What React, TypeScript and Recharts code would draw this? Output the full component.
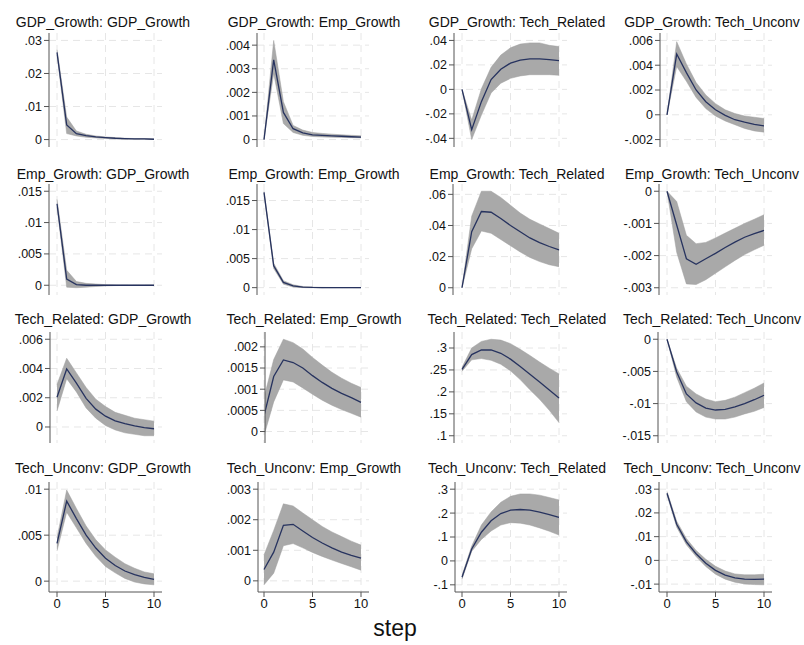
import React from 'react'
import { ComposedChart, Area, Line, XAxis, YAxis, CartesianGrid } from 'recharts'

const steps = [0, 1, 2, 3, 4, 5, 6, 7, 8, 9, 10]
const stepTicks = [0, 5, 10]

// impulse: GDP_Growth
const irfGdpGdp = [0.0264, 0.0044, 0.0018, 0.0012, 0.0008, 0.0006, 0.0004, 0.0003, 0.0002, 0.0002, 0.0001]
const loGdpGdp = [0.0256, 0.0018, 0.0011, 0.0007, 0.0005, 0.0003, 0.0002, 0.0001, 0.0001, 0.0001, 0.00005]
const hiGdpGdp = [0.0272, 0.0068, 0.0026, 0.0016, 0.0011, 0.0008, 0.0006, 0.0004, 0.0003, 0.0003, 0.0002]
const ticksGdpGdp = [0, 0.01, 0.02, 0.03]

const irfGdpEmp = [0, 0.00338, 0.00115, 0.00046, 0.00028, 0.0002, 0.00018, 0.00016, 0.00014, 0.00012, 0.0001]
const loGdpEmp = [0, 0.0028, 0.00068, 0.0003, 0.00018, 0.00013, 0.00011, 0.0001, 0.00009, 0.00008, 0.00007]
const hiGdpEmp = [0, 0.0042, 0.0016, 0.0006, 0.0004, 0.0003, 0.00026, 0.00023, 0.0002, 0.00018, 0.00016]
const ticksGdpEmp = [0, 0.001, 0.002, 0.003, 0.004]

const irfGdpRel = [0, -0.033, -0.01, 0.008, 0.0165, 0.0215, 0.024, 0.025, 0.025, 0.0243, 0.0235]
const loGdpRel = [0, -0.041, -0.021, -0.003, 0.005, 0.009, 0.011, 0.012, 0.012, 0.012, 0.0115]
const hiGdpRel = [0, -0.025, 0.0005, 0.018, 0.028, 0.034, 0.037, 0.038, 0.038, 0.036, 0.035]
const ticksGdpRel = [-0.04, -0.02, 0, 0.02, 0.04]

const irfGdpUnc = [0, 0.0049, 0.0034, 0.002, 0.00105, 0.0004, -0.00005, -0.0004, -0.0006, -0.00078, -0.0009]
const loGdpUnc = [0, 0.0039, 0.0027, 0.0014, 0.0005, -0.0001, -0.0005, -0.0008, -0.0011, -0.0013, -0.0014]
const hiGdpUnc = [0, 0.0059, 0.0041, 0.0026, 0.0016, 0.0009, 0.0004, 0.0001, -0.0001, -0.0002, -0.0003]
const ticksGdpUnc = [-0.002, 0, 0.002, 0.004, 0.006]

// impulse: Emp_Growth
const irfEmpGdp = [0.013, 0.001, 0.0001, 0, 0, 0, 0, 0, 0, 0, 0]
const loEmpGdp = [0.0125, -0.0003, -0.0004, -0.0003, -0.0002, -0.0001, -0.00005, -0.00003, -0.00002, -0.00001, -0.00001]
const hiEmpGdp = [0.0137, 0.0024, 0.0006, 0.0003, 0.0002, 0.0001, 0.00005, 0.00003, 0.00002, 0.00001, 0.00001]
const ticksEmpGdp = [0, 0.005, 0.01, 0.015]

const irfEmpEmp = [0.0164, 0.00375, 0.0009, 0.0003, 0.0001, 0.00004, 0.00002, 0.00001, 0, 0, 0]
const loEmpEmp = [0.0162, 0.0033, 0.0006, 0.0001, 0, -0.00002, -0.00002, -0.00001, -0.00001, 0, 0]
const hiEmpEmp = [0.0166, 0.0042, 0.0012, 0.0005, 0.0002, 0.0001, 0.00005, 0.00003, 0.00002, 0.00001, 0.00001]
const ticksEmpEmp = [0, 0.005, 0.01, 0.015]

const irfEmpRel = [0, 0.036, 0.049, 0.0485, 0.0445, 0.04, 0.036, 0.032, 0.029, 0.0265, 0.0243]
const loEmpRel = [0, 0.025, 0.0365, 0.035, 0.031, 0.027, 0.023, 0.0195, 0.0168, 0.0148, 0.0135]
const hiEmpRel = [0, 0.046, 0.062, 0.062, 0.058, 0.053, 0.048, 0.044, 0.041, 0.038, 0.035]
const ticksEmpRel = [0, 0.02, 0.04, 0.06]

const irfEmpUnc = [0, -0.00105, -0.0021, -0.00227, -0.0021, -0.00193, -0.00175, -0.00158, -0.00143, -0.00132, -0.00122]
const loEmpUnc = [0, -0.0019, -0.00288, -0.0029, -0.00275, -0.00255, -0.00235, -0.00215, -0.00197, -0.00182, -0.00168]
const hiEmpUnc = [0, -0.00032, -0.00137, -0.00163, -0.00159, -0.00145, -0.0013, -0.00115, -0.001, -0.00087, -0.00073]
const ticksEmpUnc = [-0.003, -0.002, -0.001, 0]

// impulse: Tech_Related
const irfRelGdp = [0.00203, 0.00397, 0.003, 0.00196, 0.00122, 0.00074, 0.00042, 0.00023, 0.00007, -0.00005, -0.00012]
const loRelGdp = [0.0011, 0.0033, 0.0024, 0.0013, 0.0006, 0.0001, -0.0002, -0.0004, -0.0005, -0.0006, -0.0006]
const hiRelGdp = [0.0029, 0.0047, 0.0037, 0.0027, 0.0019, 0.0014, 0.001, 0.0008, 0.0006, 0.0005, 0.0004]
const ticksRelGdp = [0, 0.002, 0.004, 0.006]

const irfRelEmp = [0.00037, 0.0013, 0.00169, 0.00163, 0.0015, 0.00132, 0.00116, 0.00102, 0.0009, 0.0008, 0.00069]
const loRelEmp = [-0.0001, 0.0007, 0.00122, 0.00117, 0.00103, 0.00088, 0.00074, 0.00062, 0.00052, 0.00043, 0.00034]
const hiRelEmp = [0.0008, 0.0017, 0.00218, 0.0021, 0.00195, 0.00175, 0.00157, 0.0014, 0.00126, 0.00114, 0.00104]
const ticksRelEmp = [0, 0.0005, 0.001, 0.0015, 0.002]

const irfRelRel = [0.2515, 0.285, 0.2955, 0.2955, 0.288, 0.2746, 0.258, 0.24, 0.2224, 0.2045, 0.186]
const loRelRel = [0.247, 0.273, 0.276, 0.272, 0.263, 0.248, 0.228, 0.205, 0.183, 0.158, 0.13]
const hiRelRel = [0.256, 0.3, 0.315, 0.32, 0.318, 0.31, 0.297, 0.283, 0.268, 0.254, 0.241]
const ticksRelRel = [0.1, 0.15, 0.2, 0.25, 0.3]

const irfRelUnc = [0, -0.0051, -0.0085, -0.0099, -0.0107, -0.011, -0.0109, -0.0105, -0.01, -0.0094, -0.0087]
const loRelUnc = [0, -0.0059, -0.0097, -0.0113, -0.0121, -0.0124, -0.0124, -0.0121, -0.0116, -0.0112, -0.0106]
const hiRelUnc = [0, -0.0045, -0.0073, -0.0085, -0.0093, -0.0097, -0.0095, -0.009, -0.0083, -0.0076, -0.0068]
const ticksRelUnc = [-0.015, -0.01, -0.005, 0]

// impulse: Tech_Unconv
const irfUncGdp = [0.0041, 0.0087, 0.0068, 0.005, 0.0036, 0.0025, 0.0017, 0.0011, 0.0007, 0.0004, 0.0002]
const loUncGdp = [0.0033, 0.0075, 0.0058, 0.0041, 0.0027, 0.0016, 0.0009, 0.0003, -0.0001, -0.0003, -0.0004]
const hiUncGdp = [0.0047, 0.0099, 0.0079, 0.006, 0.0045, 0.0034, 0.0026, 0.0019, 0.0014, 0.001, 0.0008]
const ticksUncGdp = [0, 0.005, 0.01]

const irfUncEmp = [0.00037, 0.00094, 0.00182, 0.00185, 0.00163, 0.00142, 0.00124, 0.00108, 0.00094, 0.00083, 0.00074]
const loUncEmp = [-0.00013, 0.00025, 0.00115, 0.00122, 0.00108, 0.00093, 0.0008, 0.00068, 0.00057, 0.00046, 0.00035]
const hiUncEmp = [0.00085, 0.00165, 0.00252, 0.00245, 0.00222, 0.002, 0.00178, 0.0016, 0.00145, 0.0013, 0.00117]
const ticksUncEmp = [0, 0.001, 0.002, 0.003]

const irfUncRel = [-0.068, 0.05, 0.12, 0.168, 0.198, 0.212, 0.215, 0.212, 0.204, 0.194, 0.182]
const loUncRel = [-0.076, 0.04, 0.09, 0.125, 0.15, 0.16, 0.158, 0.15, 0.138, 0.124, 0.108]
const hiUncRel = [-0.06, 0.062, 0.15, 0.205, 0.245, 0.27, 0.28, 0.28, 0.275, 0.265, 0.255]
const ticksUncRel = [-0.1, 0, 0.1, 0.2, 0.3]

const irfUncUnc = [0.0283, 0.0152, 0.0078, 0.0028, -0.0012, -0.0042, -0.0062, -0.0074, -0.0079, -0.008, -0.0079]
const loUncUnc = [0.0276, 0.014, 0.0066, 0.0016, -0.0026, -0.0058, -0.0079, -0.0092, -0.0099, -0.0102, -0.0103]
const hiUncUnc = [0.029, 0.0165, 0.0092, 0.0042, 0.0005, -0.0025, -0.0045, -0.0057, -0.0061, -0.0061, -0.0058]
const ticksUncUnc = [-0.01, 0, 0.01, 0.02, 0.03]

type PanelDef = { title: string; irf: number[]; lo: number[]; hi: number[]; ticks: number[] }

const panels: PanelDef[][] = [
  [
    { title: 'GDP_Growth: GDP_Growth', irf: irfGdpGdp, lo: loGdpGdp, hi: hiGdpGdp, ticks: ticksGdpGdp },
    { title: 'GDP_Growth: Emp_Growth', irf: irfGdpEmp, lo: loGdpEmp, hi: hiGdpEmp, ticks: ticksGdpEmp },
    { title: 'GDP_Growth: Tech_Related', irf: irfGdpRel, lo: loGdpRel, hi: hiGdpRel, ticks: ticksGdpRel },
    { title: 'GDP_Growth: Tech_Unconv', irf: irfGdpUnc, lo: loGdpUnc, hi: hiGdpUnc, ticks: ticksGdpUnc },
  ],
  [
    { title: 'Emp_Growth: GDP_Growth', irf: irfEmpGdp, lo: loEmpGdp, hi: hiEmpGdp, ticks: ticksEmpGdp },
    { title: 'Emp_Growth: Emp_Growth', irf: irfEmpEmp, lo: loEmpEmp, hi: hiEmpEmp, ticks: ticksEmpEmp },
    { title: 'Emp_Growth: Tech_Related', irf: irfEmpRel, lo: loEmpRel, hi: hiEmpRel, ticks: ticksEmpRel },
    { title: 'Emp_Growth: Tech_Unconv', irf: irfEmpUnc, lo: loEmpUnc, hi: hiEmpUnc, ticks: ticksEmpUnc },
  ],
  [
    { title: 'Tech_Related: GDP_Growth', irf: irfRelGdp, lo: loRelGdp, hi: hiRelGdp, ticks: ticksRelGdp },
    { title: 'Tech_Related: Emp_Growth', irf: irfRelEmp, lo: loRelEmp, hi: hiRelEmp, ticks: ticksRelEmp },
    { title: 'Tech_Related: Tech_Related', irf: irfRelRel, lo: loRelRel, hi: hiRelRel, ticks: ticksRelRel },
    { title: 'Tech_Related: Tech_Unconv', irf: irfRelUnc, lo: loRelUnc, hi: hiRelUnc, ticks: ticksRelUnc },
  ],
  [
    { title: 'Tech_Unconv: GDP_Growth', irf: irfUncGdp, lo: loUncGdp, hi: hiUncGdp, ticks: ticksUncGdp },
    { title: 'Tech_Unconv: Emp_Growth', irf: irfUncEmp, lo: loUncEmp, hi: hiUncEmp, ticks: ticksUncEmp },
    { title: 'Tech_Unconv: Tech_Related', irf: irfUncRel, lo: loUncRel, hi: hiUncRel, ticks: ticksUncRel },
    { title: 'Tech_Unconv: Tech_Unconv', irf: irfUncUnc, lo: loUncUnc, hi: hiUncUnc, ticks: ticksUncUnc },
  ],
]

// layout (px)
const FONT = '"Liberation Sans", Arial, Helvetica, sans-serif'
const colX0 = [57, 264, 462, 667] // where step 0 sits in each column
const STEP_PX = 9.7
const rowTop = [33, 184, 332, 482]
const rowH = [114, 111, 111, 110]
const titleY = [22, 174, 319, 468]
const titleCx = [103, 314, 517, 712]
const axisX = [
  [49, 257, 454, 660],
  [49, 257, 453, 659],
  [50, 265, 454, 658],
  [49, 258, 455, 659],
]
const YW = 60

const fmt = (v: number) => {
  if (Math.abs(v) < 1e-12) return '0'
  return parseFloat(v.toFixed(6)).toString().replace(/^(-?)0\./, '$1.')
}

function Panel({ p, r, c }: { p: PanelDef; r: number; c: number }) {
  const ax = axisX[r][c]
  const x0 = colX0[c]
  const right = x0 + 10 * STEP_PX + 8
  const plotW = right - ax
  const xMin = -(x0 - ax) / STEP_PX
  const xMax = 10 + 8 / STEP_PX
  const bottom = r === 3
  const xh = bottom ? 26 : 0
  const data = steps.map((s, i) => ({ step: s, irf: p.irf[i], band: [p.lo[i], p.hi[i]] }))
  const lo = Math.min(...p.ticks, ...p.lo)
  const hi = Math.max(...p.ticks, ...p.hi)
  const pad = (hi - lo) * 0.075
  const tickStyle = { fontSize: 12.5, fill: '#111', fontFamily: FONT }

  return (
    <div style={{ position: 'absolute', left: ax - YW, top: rowTop[r] }}>
      <ComposedChart width={YW + plotW} height={rowH[r] + xh} data={data} margin={{ top: 0, right: 0, bottom: 0, left: 0 }}>
        <CartesianGrid horizontalValues={p.ticks} verticalValues={stepTicks} stroke="#e6e6e6" strokeDasharray="7 5" />
        <XAxis
          type="number"
          dataKey="step"
          domain={[xMin, xMax]}
          ticks={stepTicks}
          interval={0}
          allowDataOverflow
          hide={!bottom}
          height={xh}
          axisLine={{ stroke: '#555' }}
          tickLine={{ stroke: '#555' }}
          tickSize={5}
          tickMargin={2}
          tick={{ ...tickStyle, fontSize: 13 }}
          tickFormatter={(v) => String(v)}
        />
        <YAxis
          type="number"
          domain={[lo - pad, hi + pad]}
          ticks={p.ticks}
          interval={0}
          allowDataOverflow
          width={YW}
          axisLine={{ stroke: '#555' }}
          tickLine={{ stroke: '#555' }}
          tickSize={5}
          tickMargin={2}
          tick={tickStyle}
          tickFormatter={fmt}
        />
        <Area
          dataKey="band"
          type="linear"
          fill="#a9a9a9"
          fillOpacity={1}
          stroke="#9e9e9e"
          strokeWidth={0.5}
          isAnimationActive={false}
          dot={false}
          activeDot={false}
        />
        <Line dataKey="irf" type="linear" stroke="#27335f" strokeWidth={1.3} dot={false} activeDot={false} isAnimationActive={false} />
      </ComposedChart>
    </div>
  )
}

export default function App() {
  return (
    <div style={{ position: 'absolute', left: 0, top: 0, width: 804, height: 645, background: '#fff', overflow: 'hidden', fontFamily: FONT }}>
      {panels.map((row, r) =>
        row.map((p, c) => (
          <React.Fragment key={`${r}-${c}`}>
            <div
              style={{
                position: 'absolute',
                left: titleCx[c] - 110,
                width: 220,
                top: titleY[r] - 9,
                textAlign: 'center',
                fontSize: 14,
                lineHeight: '18px',
                color: '#111',
                whiteSpace: 'nowrap',
              }}
            >
              {p.title}
            </div>
            <Panel p={p} r={r} c={c} />
          </React.Fragment>
        ))
      )}
      <div style={{ position: 'absolute', left: 345, width: 100, top: 614, textAlign: 'center', fontSize: 23, lineHeight: '28px', color: '#111' }}>
        step
      </div>
    </div>
  )
}
